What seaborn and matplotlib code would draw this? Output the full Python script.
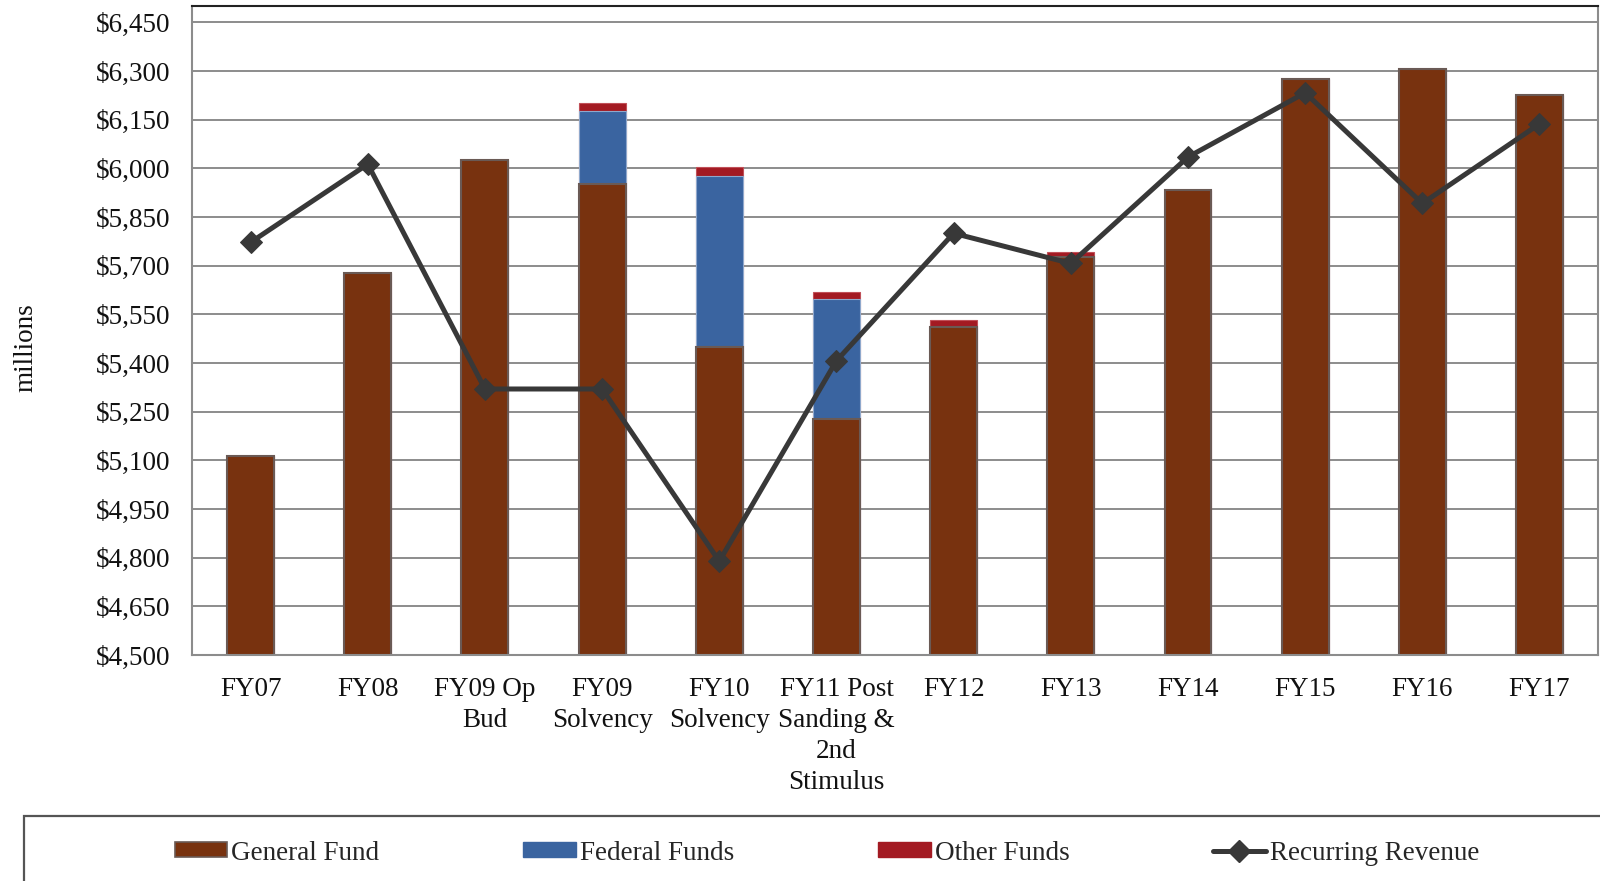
import matplotlib
matplotlib.use("Agg")
import matplotlib.pyplot as plt
from matplotlib.patches import Rectangle, Patch
from matplotlib.lines import Line2D
from matplotlib.ticker import FuncFormatter, FixedLocator
import numpy as np
import pandas as pd
import seaborn as sns

# Budget scenarios (millions of dollars)
categories = ["FY07", "FY08", "FY09 Op\nBud", "FY09\nSolvency", "FY10\nSolvency",
              "FY11 Post\nSanding &\n2nd\nStimulus", "FY12", "FY13", "FY14", "FY15",
              "FY16", "FY17"]
general_fund = [5113, 5676, 6025, 5951, 5450, 5228, 5512, 5726, 5934, 6274, 6305, 6226]
federal_funds = [0, 0, 0, 227, 525, 370, 0, 0, 0, 0, 0, 0]
other_funds = [0, 0, 0, 25, 28, 20, 21, 17, 0, 0, 0, 0]
recurring_revenue = [5772, 6013, 5320, 5320, 4789, 5407, 5800, 5707, 6035, 6233, 5892, 6137]

y_ticks = list(range(4500, 6451, 150))

sns.set_theme(style="white")
plt.rcParams["font.family"] = ["Liberation Serif", "DejaVu Serif"]
FS = 19.5

GEN_C = "#78320F"
FED_C = "#3A64A0"
OTH_C = "#A31A22"
LINE_C = "#383838"

df = pd.DataFrame({
    "cat": categories,
    "gen": general_fund,
    "fed": federal_funds,
    "oth": other_funds,
    "rev": recurring_revenue,
})
df["gen_fed"] = df["gen"] + df["fed"]
df["total"] = df["gen_fed"] + df["oth"]

fig = plt.figure(figsize=(16, 8.81), dpi=100)
ax = fig.add_axes([0.12, 0.2565, 0.8788, 0.7365])

# stacked bars, drawn back to front from the cumulative totals
sns.barplot(data=df, x="cat", y="total", color=OTH_C, width=0.40, saturation=1,
            edgecolor="#C05058", linewidth=0.8, ax=ax, order=categories)
sns.barplot(data=df, x="cat", y="gen_fed", color=FED_C, width=0.40, saturation=1,
            edgecolor="#8FA8CC", linewidth=0.8, ax=ax, order=categories)
sns.barplot(data=df, x="cat", y="gen", color=GEN_C, width=0.40, saturation=1,
            edgecolor="#6A5A55", linewidth=1.5, ax=ax, order=categories)

x_pos = np.arange(len(categories))
sns.lineplot(x=x_pos, y=df["rev"].values, color=LINE_C, linewidth=3.6,
             marker="D", markersize=11, markeredgecolor=LINE_C, ax=ax, zorder=5)

ax.set_ylim(4500, 6500)
ax.set_xlim(-0.5, len(categories) - 0.5)
ax.yaxis.set_major_locator(FixedLocator(y_ticks))
ax.yaxis.set_major_formatter(FuncFormatter(lambda v, p: f"${v:,.0f}"))
ax.grid(axis="y", color="#8C8C8C", linewidth=1.4)
ax.set_axisbelow(True)

ax.set_xticks(x_pos)
ax.set_xticklabels(categories, linespacing=1.32)
ax.xaxis.set_minor_locator(FixedLocator(np.arange(-0.5, len(categories), 1.0)))
ax.tick_params(axis="x", which="major", length=0, pad=16, labelsize=FS, colors="#111111")
ax.tick_params(axis="x", which="minor", length=7, width=1.3, color="#8C8C8C", direction="out")
ax.tick_params(axis="y", which="major", length=8, width=1.3, color="#8C8C8C",
               direction="out", pad=7.5, labelsize=FS, labelcolor="#111111")
ax.set_xlabel("")
ax.set_ylabel("millions", fontsize=FS, color="#111111")
ax.yaxis.set_label_coords(-0.109, 0.473)

for side in ["left", "bottom", "right"]:
    ax.spines[side].set_visible(True)
    ax.spines[side].set_color("#8C8C8C")
    ax.spines[side].set_linewidth(1.5)
ax.spines["top"].set_visible(True)
ax.spines["top"].set_color("#222222")
ax.spines["top"].set_linewidth(1.5)

# legend and its frame along the bottom
fig.patches.append(Rectangle((24 / 1600, -0.05), 1.0, (881 - 816) / 881 + 0.05,
                             transform=fig.transFigure, fill=False,
                             edgecolor="#555555", linewidth=1.6))
handles = [
    Patch(facecolor=GEN_C, edgecolor="#6A5A55", linewidth=1.2, label="General Fund"),
    Patch(facecolor=FED_C, edgecolor=FED_C, label="Federal Funds"),
    Patch(facecolor=OTH_C, edgecolor=OTH_C, label="Other Funds"),
    Line2D([0], [0], color=LINE_C, linewidth=3.6, marker="D", markersize=11,
           label="Recurring Revenue"),
]
fig.legend(handles=handles, loc="center", bbox_to_anchor=(0.5168, 1 - 853 / 881),
           ncol=4, frameon=False, fontsize=FS, handlelength=1.95,
           handleheight=0.48, handletextpad=0.15, columnspacing=5.3)

fig.savefig("out.png", dpi=100)
